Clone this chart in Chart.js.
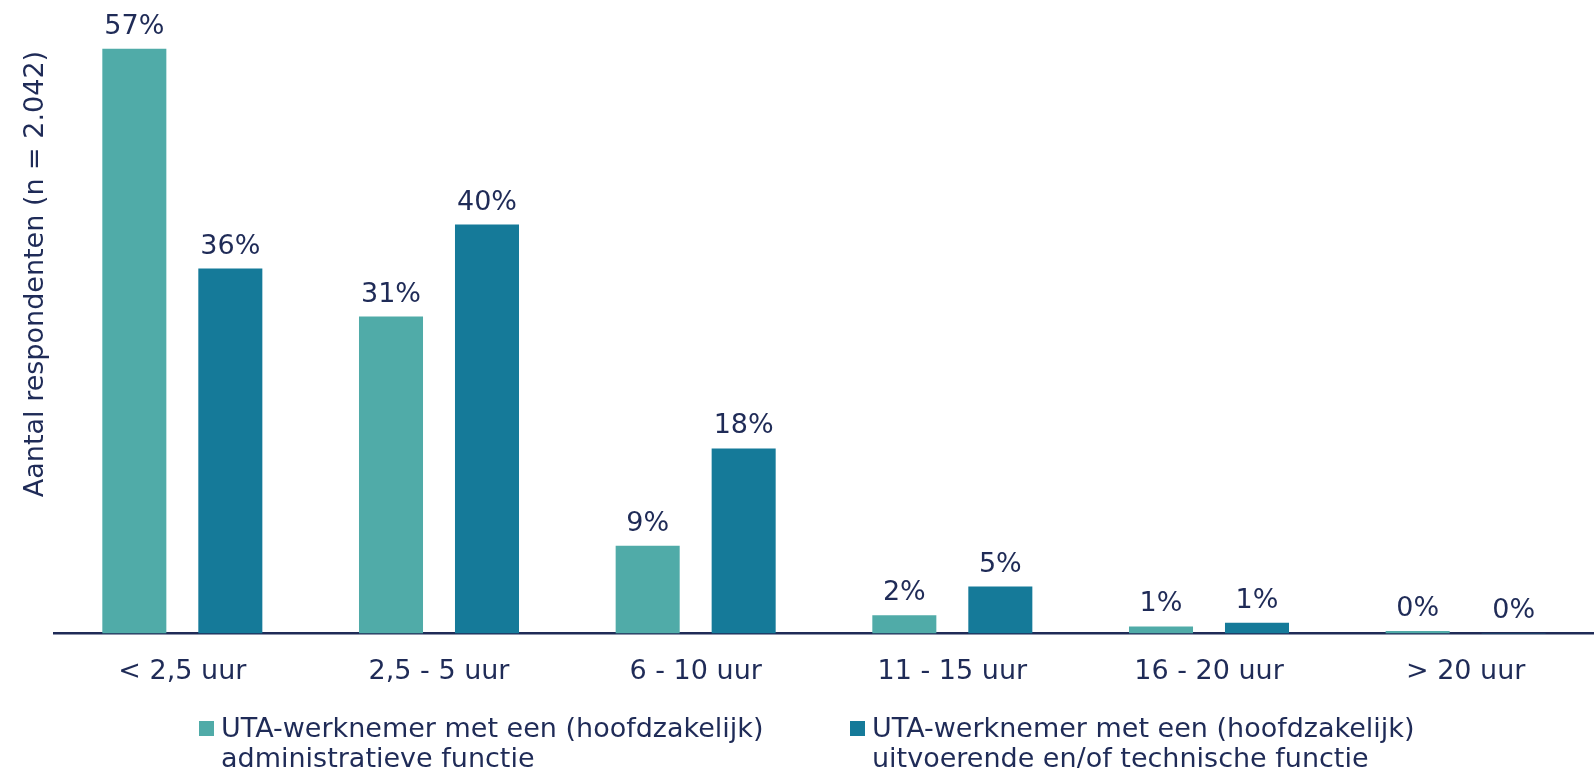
<!DOCTYPE html>
<html lang="nl">
<head>
<meta charset="utf-8">
<title>Uren per week</title>
<script src="https://cdn.jsdelivr.net/npm/chart.js@4/dist/chart.umd.min.js"></script>
<style>
  html, body { margin: 0; padding: 0; background: #fff; }
  #wrap { position: relative; width: 1594px; height: 768px; overflow: hidden; }
  #chart { position: absolute; left: 0; top: 0; }
  .legend-item {
    position: absolute;
    top: 713px;
    font-family: "DejaVu Sans", Verdana, sans-serif;
    font-size: 27px;
    line-height: 30px;
    color: #1f2b57;
    white-space: nowrap;
  }
  .legend-item .box { position: absolute; left: 0; top: 8px; width: 15px; height: 15px; }
  .legend-item .txt { margin-left: 22px; }
</style>
</head>
<body>
<div id="wrap">
  <canvas id="chart" width="1594" height="768"></canvas>
  <div id="legend"></div>
</div>
<script>
const categories = ["< 2,5 uur", "2,5 - 5 uur", "6 - 10 uur", "11 - 15 uur", "16 - 20 uur", "> 20 uur"];

// percentages; labels show them rounded
const adminValues = [57.2, 31.0, 8.6, 1.8, 0.7, 0.26];
const techValues = [35.7, 40.0, 18.1, 4.6, 1.06, 0.07];

const seriesNames = [
  ["UTA-werknemer met een (hoofdzakelijk)", "administratieve functie"],
  ["UTA-werknemer met een (hoofdzakelijk)", "uitvoerende en/of technische functie"],
];
const seriesColors = ["#50aba8", "#157a99"];
const yTitle = "Aantal respondenten (n = 2.042)";

const TEXT = "#1f2b57";
const FONT = '"DejaVu Sans", Verdana, sans-serif';

// percentage labels above each bar
const barLabels = {
  id: "barLabels",
  afterDatasetsDraw(chart) {
    const ctx = chart.ctx;
    ctx.save();
    ctx.font = `27px ${FONT}`;
    ctx.fillStyle = TEXT;
    ctx.textAlign = "center";
    ctx.textBaseline = "alphabetic";
    chart.data.datasets.forEach((ds, di) => {
      const meta = chart.getDatasetMeta(di);
      meta.data.forEach((el, i) => {
        ctx.fillText(Math.round(ds.data[i]) + "%", el.x, el.y - 15);
      });
    });
    ctx.restore();
  },
};

// rotated y title, sits a bit above the middle like the original
const yTitlePlugin = {
  id: "yTitle",
  afterDraw(chart) {
    const ctx = chart.ctx;
    ctx.save();
    ctx.translate(36, 274);
    ctx.rotate(-Math.PI / 2);
    ctx.font = `27px ${FONT}`;
    ctx.fillStyle = TEXT;
    ctx.textAlign = "center";
    ctx.textBaseline = "middle";
    ctx.fillText(yTitle, 0, 0);
    ctx.restore();
  },
};

new Chart(document.getElementById("chart"), {
  type: "bar",
  data: {
    labels: categories,
    datasets: [
      {
        label: seriesNames[0].join(" "),
        data: adminValues,
        backgroundColor: seriesColors[0],
        categoryPercentage: 0.748,
        barPercentage: 0.667,
      },
      {
        label: seriesNames[1].join(" "),
        data: techValues,
        backgroundColor: seriesColors[1],
        categoryPercentage: 0.748,
        barPercentage: 0.667,
      },
    ],
  },
  options: {
    responsive: false,
    animation: false,
    devicePixelRatio: 1,
    layout: { padding: { left: 54, right: 0, top: 20, bottom: 66 } },
    plugins: {
      legend: { display: false },
      tooltip: { enabled: false },
    },
    scales: {
      x: {
        grid: { display: false },
        border: { display: true, color: TEXT, width: 2.5 },
        ticks: {
          color: TEXT,
          padding: 14,
          font: { family: FONT, size: 27 },
        },
      },
      y: {
        display: false,
        min: 0,
        max: 60,
      },
    },
  },
  plugins: [barLabels, yTitlePlugin],
});

// two-line legend items under the chart
const legendRoot = document.getElementById("legend");
const legendLeft = [199, 850];
seriesNames.forEach((lines, i) => {
  const item = document.createElement("div");
  item.className = "legend-item";
  item.style.left = legendLeft[i] + "px";
  item.innerHTML = `<span class="box" style="background:${seriesColors[i]}"></span>` +
    `<div class="txt">${lines.join("<br>")}</div>`;
  legendRoot.appendChild(item);
});
</script>
</body>
</html>
